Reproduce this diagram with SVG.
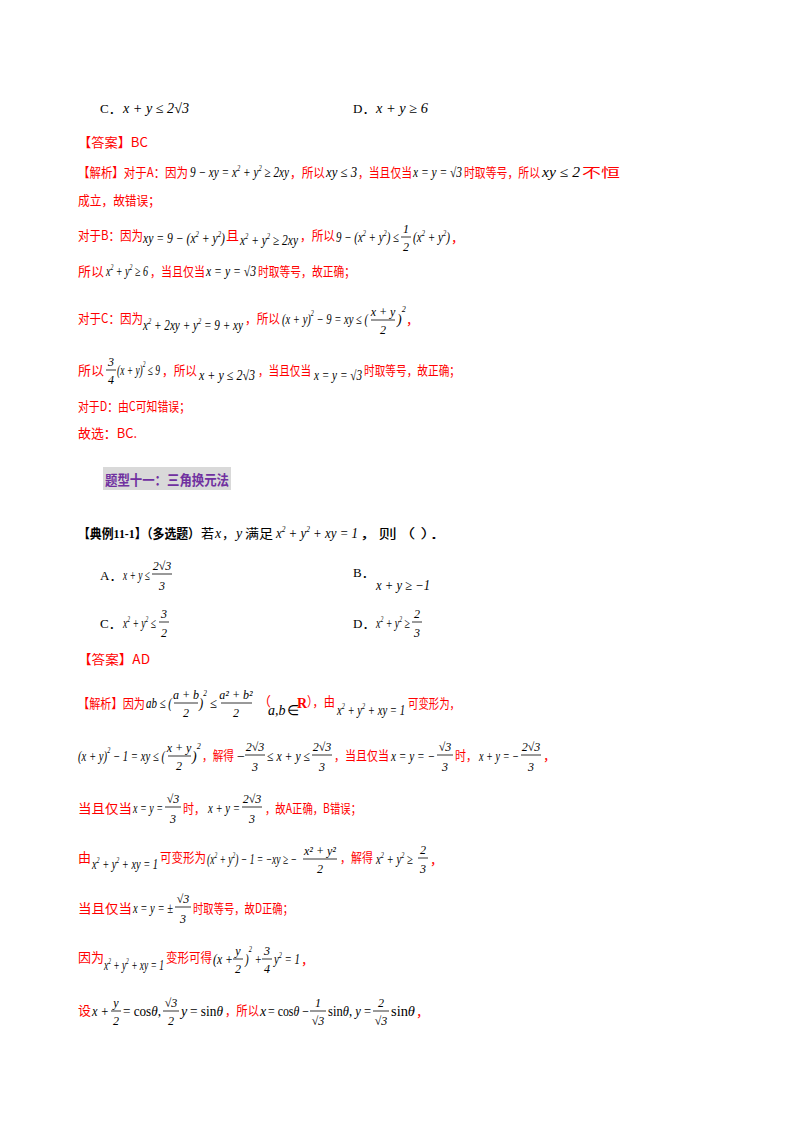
<svg xmlns="http://www.w3.org/2000/svg" width="800" height="1132" viewBox="0 0 800 1132">
<style>
text{font-size:14px}
.c{font-family:"Noto Sans CJK SC",sans-serif;fill:#ff0000;font-size:13px}
.k{font-family:"Liberation Serif","Noto Sans CJK SC",serif;fill:#000;font-size:13px}
.m{font-family:"Liberation Serif",serif;font-style:italic;fill:#000;font-size:14px}
.n{font-family:"Liberation Serif",serif;fill:#000;font-size:14px}
.f{font-family:"Liberation Serif",serif;font-style:italic;fill:#000;font-size:12px;text-anchor:middle}
.b{font-family:"Liberation Serif","Noto Sans CJK SC",serif;font-weight:bold;fill:#000;font-size:13px}
.s{font-size:8px}
line{stroke:#000;stroke-width:0.8}
</style>
<rect width="800" height="1132" fill="#fff"/>
<g id="page">
<text x="100" y="113" class="k">C．</text><text x="123" y="113" class="m" textLength="66" lengthAdjust="spacingAndGlyphs">x + y ≤ 2√3</text>
<text x="353" y="113" class="k">D．</text><text x="376" y="113" class="m" textLength="52" lengthAdjust="spacingAndGlyphs">x + y ≥ 6</text>

<text x="78" y="147" class="c" textLength="70" lengthAdjust="spacingAndGlyphs">【答案】BC</text>

<text x="78" y="177" class="c" textLength="110" lengthAdjust="spacingAndGlyphs">【解析】对于A：因为</text>
<text x="190" y="177" class="m" textLength="99" lengthAdjust="spacingAndGlyphs">9 − xy = x<tspan class="s" dy="-6">2</tspan><tspan dy="6"> + y</tspan><tspan class="s" dy="-6">2</tspan><tspan dy="6"> ≥ 2xy</tspan></text>
<text x="290" y="177" class="c" textLength="35" lengthAdjust="spacingAndGlyphs">，所以</text><text x="326" y="177" class="m" textLength="31" lengthAdjust="spacingAndGlyphs">xy ≤ 3</text>
<text x="358" y="177" class="c" textLength="54" lengthAdjust="spacingAndGlyphs">，当且仅当</text><text x="413" y="177" class="m" textLength="49" lengthAdjust="spacingAndGlyphs">x = y = √3</text>
<text x="464" y="177" class="c" textLength="76" lengthAdjust="spacingAndGlyphs">时取等号，所以</text><text x="542" y="177" class="m" textLength="38" lengthAdjust="spacingAndGlyphs">xy ≤ 2</text><text x="582" y="177" class="c" textLength="38" lengthAdjust="spacingAndGlyphs">不恒</text>
<text x="78" y="205" class="c" textLength="82" lengthAdjust="spacingAndGlyphs">成立，故错误；</text>

<text x="78" y="240" class="c" textLength="65" lengthAdjust="spacingAndGlyphs">对于B：因为</text>
<text x="143" y="243" class="m" textLength="82" lengthAdjust="spacingAndGlyphs">xy = 9 − (x<tspan class="s" dy="-6">2</tspan><tspan dy="6"> + y</tspan><tspan class="s" dy="-6">2</tspan><tspan dy="6">)</tspan></text>
<text x="226" y="240" class="c">且</text>
<text x="240" y="245" class="m" textLength="58" lengthAdjust="spacingAndGlyphs">x<tspan class="s" dy="-6">2</tspan><tspan dy="6"> + y</tspan><tspan class="s" dy="-6">2</tspan><tspan dy="6"> ≥ 2xy</tspan></text>
<text x="300" y="240" class="c" textLength="35" lengthAdjust="spacingAndGlyphs">，所以</text>
<text x="336" y="242" class="m" textLength="63" lengthAdjust="spacingAndGlyphs">9 − (x<tspan class="s" dy="-6">2</tspan><tspan dy="6"> + y</tspan><tspan class="s" dy="-6">2</tspan><tspan dy="6">) ≤</tspan></text>
<text x="406" y="233" class="f">1</text><line x1="401" y1="237" x2="411" y2="237"/><text x="406" y="251" class="f">2</text>
<text x="413" y="242" class="m" textLength="37" lengthAdjust="spacingAndGlyphs">(x<tspan class="s" dy="-6">2</tspan><tspan dy="6"> + y</tspan><tspan class="s" dy="-6">2</tspan><tspan dy="6">)</tspan></text><text x="451" y="242" class="c">，</text>

<text x="78" y="276" class="c" textLength="26" lengthAdjust="spacingAndGlyphs">所以</text>
<text x="106" y="276" class="m" textLength="42" lengthAdjust="spacingAndGlyphs">x<tspan class="s" dy="-6">2</tspan><tspan dy="6"> + y</tspan><tspan class="s" dy="-6">2</tspan><tspan dy="6"> ≥ 6</tspan></text>
<text x="150" y="276" class="c" textLength="55" lengthAdjust="spacingAndGlyphs">，当且仅当</text><text x="206" y="276" class="m" textLength="50" lengthAdjust="spacingAndGlyphs">x = y = √3</text>
<text x="258" y="276" class="c" textLength="97" lengthAdjust="spacingAndGlyphs">时取等号，故正确；</text>

<text x="78" y="323" class="c" textLength="65" lengthAdjust="spacingAndGlyphs">对于C：因为</text>
<text x="143" y="330" class="m" textLength="100" lengthAdjust="spacingAndGlyphs">x<tspan class="s" dy="-6">2</tspan><tspan dy="6"> + 2xy + y</tspan><tspan class="s" dy="-6">2</tspan><tspan dy="6"> = 9 + xy</tspan></text>
<text x="245" y="323" class="c" textLength="35" lengthAdjust="spacingAndGlyphs">，所以</text>
<text x="282" y="324" class="m" textLength="86" lengthAdjust="spacingAndGlyphs">(x + y)<tspan class="s" dy="-8">2</tspan><tspan dy="8"> − 9 = xy ≤ (</tspan></text>
<text x="383" y="316" class="f">x + y</text><line x1="371" y1="320" x2="395" y2="320"/><text x="383" y="334" class="f">2</text>
<text x="397" y="324" class="m">)<tspan class="s" dy="-12">2</tspan></text><text x="406" y="324" class="c">，</text>

<text x="78" y="375" class="c" textLength="26" lengthAdjust="spacingAndGlyphs">所以</text>
<text x="111" y="366" class="f">3</text><line x1="106" y1="370" x2="116" y2="370"/><text x="111" y="384" class="f">4</text>
<text x="117" y="375" class="m" textLength="43" lengthAdjust="spacingAndGlyphs">(x + y)<tspan class="s" dy="-8">2</tspan><tspan dy="8"> ≤ 9</tspan></text>
<text x="162" y="375" class="c" textLength="35" lengthAdjust="spacingAndGlyphs">，所以</text><text x="199" y="380" class="m" textLength="56" lengthAdjust="spacingAndGlyphs">x + y ≤ 2√3</text>
<text x="258" y="375" class="c" textLength="53" lengthAdjust="spacingAndGlyphs">，当且仅当</text><text x="314" y="380" class="m" textLength="48" lengthAdjust="spacingAndGlyphs">x = y = √3</text>
<text x="364" y="375" class="c" textLength="96" lengthAdjust="spacingAndGlyphs">时取等号，故正确；</text>

<text x="78" y="411" class="c" textLength="112" lengthAdjust="spacingAndGlyphs">对于D：由C可知错误；</text>
<text x="78" y="438" class="c" textLength="59" lengthAdjust="spacingAndGlyphs">故选：BC.</text>
</g>

<g id="heading">
<rect x="103" y="467" width="128" height="23" fill="#d9d9d9"/>
<text x="105" y="485" font-family="Noto Sans CJK SC,sans-serif" font-weight="bold" font-size="16" fill="#7030a0" textLength="124" lengthAdjust="spacingAndGlyphs">题型十一：三角换元法</text>
</g>

<g id="example">
<text x="78" y="538" class="b" textLength="122" lengthAdjust="spacingAndGlyphs">【典例11-1】（多选题）</text>
<text x="201" y="538" class="k">若</text><text x="215" y="538" class="m">x</text><text x="222" y="538" class="k">，</text><text x="236" y="538" class="m">y</text><text x="245" y="538" class="k" textLength="28" lengthAdjust="spacingAndGlyphs">满足</text>
<text x="276" y="538" class="m" textLength="82" lengthAdjust="spacingAndGlyphs">x<tspan class="s" dy="-6">2</tspan><tspan dy="6"> + y</tspan><tspan class="s" dy="-6">2</tspan><tspan dy="6"> + xy = 1</tspan></text>
<text x="360" y="538" class="k" textLength="88" lengthAdjust="spacingAndGlyphs">，则（    ）．</text>

<text x="100" y="580" class="k">A．</text><text x="123" y="580" class="m" textLength="27" lengthAdjust="spacingAndGlyphs">x + y ≤</text>
<text x="162" y="570" class="f">2√3</text><line x1="152" y1="574" x2="172" y2="574"/><text x="162" y="590" class="f">3</text>
<text x="353" y="577" class="k">B．</text><text x="376" y="590" class="m" textLength="54" lengthAdjust="spacingAndGlyphs">x + y ≥ −1</text>

<text x="100" y="628" class="k">C．</text><text x="123" y="628" class="m" textLength="33" lengthAdjust="spacingAndGlyphs">x<tspan class="s" dy="-6">2</tspan><tspan dy="6"> + y</tspan><tspan class="s" dy="-6">2</tspan><tspan dy="6"> ≤</tspan></text>
<text x="164" y="618" class="f">3</text><line x1="159" y1="622" x2="169" y2="622"/><text x="164" y="637" class="f">2</text>
<text x="353" y="628" class="k">D．</text><text x="376" y="628" class="m" textLength="34" lengthAdjust="spacingAndGlyphs">x<tspan class="s" dy="-6">2</tspan><tspan dy="6"> + y</tspan><tspan class="s" dy="-6">2</tspan><tspan dy="6"> ≥</tspan></text>
<text x="417" y="618" class="f">2</text><line x1="412" y1="622" x2="422" y2="622"/><text x="417" y="637" class="f">3</text>

<text x="78" y="664" class="c" textLength="72" lengthAdjust="spacingAndGlyphs">【答案】AD</text>

<text x="78" y="708" class="c" textLength="67" lengthAdjust="spacingAndGlyphs">【解析】因为</text>
<text x="146" y="708" class="m" textLength="26" lengthAdjust="spacingAndGlyphs">ab ≤ (</text>
<text x="186" y="699" class="f">a + b</text><line x1="174" y1="703" x2="198" y2="703"/><text x="186" y="717" class="f">2</text>
<text x="199" y="708" class="m" textLength="18" lengthAdjust="spacingAndGlyphs">)<tspan class="s" dy="-12">2</tspan><tspan dy="12"> ≤</tspan></text>
<text x="236" y="699" class="f">a² + b²</text><line x1="221" y1="703" x2="252" y2="703"/><text x="236" y="717" class="f">2</text>
<text x="258" y="706" class="c">（</text><text x="268" y="715" class="m">a,b</text><text x="287" y="715" class="n">∈</text>
<text x="297" y="708" font-family="Liberation Serif,serif" font-weight="bold" font-size="14" fill="#ff0000">R</text><text x="307" y="706" class="c" textLength="28" lengthAdjust="spacingAndGlyphs">），由</text>
<text x="337" y="715" class="m" textLength="68" lengthAdjust="spacingAndGlyphs">x<tspan class="s" dy="-6">2</tspan><tspan dy="6"> + y</tspan><tspan class="s" dy="-6">2</tspan><tspan dy="6"> + xy = 1</tspan></text>
<text x="408" y="708" class="c" textLength="52" lengthAdjust="spacingAndGlyphs">可变形为，</text>

<text x="78" y="761" class="m" textLength="87" lengthAdjust="spacingAndGlyphs">(x + y)<tspan class="s" dy="-8">2</tspan><tspan dy="8"> − 1 = xy ≤ (</tspan></text>
<text x="179" y="752" class="f">x + y</text><line x1="168" y1="756" x2="191" y2="756"/><text x="179" y="770" class="f">2</text>
<text x="192" y="761" class="m">)<tspan class="s" dy="-12">2</tspan></text>
<text x="202" y="760" class="c" textLength="32" lengthAdjust="spacingAndGlyphs">，解得</text><text x="236" y="761" class="m">−</text>
<text x="255" y="751" class="f">2√3</text><line x1="245" y1="755" x2="265" y2="755"/><text x="255" y="771" class="f">3</text>
<text x="267" y="761" class="m" textLength="43" lengthAdjust="spacingAndGlyphs">≤ x + y ≤</text>
<text x="322" y="751" class="f">2√3</text><line x1="312" y1="755" x2="332" y2="755"/><text x="322" y="771" class="f">3</text>
<text x="334" y="760" class="c" textLength="55" lengthAdjust="spacingAndGlyphs">，当且仅当</text><text x="391" y="761" class="m" textLength="44" lengthAdjust="spacingAndGlyphs">x = y = −</text>
<text x="445" y="751" class="f">√3</text><line x1="437" y1="755" x2="453" y2="755"/><text x="445" y="771" class="f">3</text>
<text x="455" y="760" class="c" textLength="22" lengthAdjust="spacingAndGlyphs">时，</text><text x="479" y="761" class="m" textLength="40" lengthAdjust="spacingAndGlyphs">x + y = −</text>
<text x="531" y="751" class="f">2√3</text><line x1="521" y1="755" x2="541" y2="755"/><text x="531" y="771" class="f">3</text>
<text x="543" y="760" class="c">，</text>

<text x="78" y="813" class="c" textLength="54" lengthAdjust="spacingAndGlyphs">当且仅当</text><text x="133" y="813" class="m" textLength="30" lengthAdjust="spacingAndGlyphs">x = y =</text>
<text x="173" y="803" class="f">√3</text><line x1="165" y1="807" x2="181" y2="807"/><text x="173" y="823" class="f">3</text>
<text x="183" y="813" class="c" textLength="22" lengthAdjust="spacingAndGlyphs">时，</text><text x="208" y="813" class="m" textLength="32" lengthAdjust="spacingAndGlyphs">x + y =</text>
<text x="252" y="803" class="f">2√3</text><line x1="242" y1="807" x2="262" y2="807"/><text x="252" y="823" class="f">3</text>
<text x="265" y="813" class="c" textLength="96" lengthAdjust="spacingAndGlyphs">，故A正确，B错误；</text>

<text x="78" y="862" class="c">由</text>
<text x="92" y="869" class="m" textLength="66" lengthAdjust="spacingAndGlyphs">x<tspan class="s" dy="-6">2</tspan><tspan dy="6"> + y</tspan><tspan class="s" dy="-6">2</tspan><tspan dy="6"> + xy = 1</tspan></text>
<text x="160" y="862" class="c" textLength="46" lengthAdjust="spacingAndGlyphs">可变形为</text>
<text x="207" y="864" class="m" textLength="90" lengthAdjust="spacingAndGlyphs">(x<tspan class="s" dy="-6">2</tspan><tspan dy="6"> + y</tspan><tspan class="s" dy="-6">2</tspan><tspan dy="6">) − 1 = −xy ≥ −</tspan></text>
<text x="320" y="855" class="f">x² + y²</text><line x1="303" y1="859" x2="337" y2="859"/><text x="320" y="873" class="f">2</text>
<text x="340" y="862" class="c" textLength="33" lengthAdjust="spacingAndGlyphs">，解得</text>
<text x="376" y="864" class="m" textLength="37" lengthAdjust="spacingAndGlyphs">x<tspan class="s" dy="-6">2</tspan><tspan dy="6"> + y</tspan><tspan class="s" dy="-6">2</tspan><tspan dy="6"> ≥</tspan></text>
<text x="423" y="854" class="f">2</text><line x1="418" y1="858" x2="428" y2="858"/><text x="423" y="873" class="f">3</text><text x="430" y="864" class="c">，</text>

<text x="78" y="913" class="c" textLength="54" lengthAdjust="spacingAndGlyphs">当且仅当</text><text x="133" y="913" class="m" textLength="40" lengthAdjust="spacingAndGlyphs">x = y = ±</text>
<text x="183" y="903" class="f">√3</text><line x1="175" y1="907" x2="191" y2="907"/><text x="183" y="923" class="f">3</text>
<text x="193" y="913" class="c" textLength="100" lengthAdjust="spacingAndGlyphs">时取等号，故D正确；</text>

<text x="78" y="962" class="c" textLength="26" lengthAdjust="spacingAndGlyphs">因为</text>
<text x="104" y="970" class="m" textLength="60" lengthAdjust="spacingAndGlyphs">x<tspan class="s" dy="-6">2</tspan><tspan dy="6"> + y</tspan><tspan class="s" dy="-6">2</tspan><tspan dy="6"> + xy = 1</tspan></text>
<text x="166" y="962" class="c" textLength="46" lengthAdjust="spacingAndGlyphs">变形可得</text>
<text x="213" y="964" class="m" textLength="20" lengthAdjust="spacingAndGlyphs">(x +</text>
<text x="238" y="955" class="f">y</text><line x1="233" y1="959" x2="243" y2="959"/><text x="238" y="973" class="f">2</text>
<text x="245" y="964" class="m" textLength="17" lengthAdjust="spacingAndGlyphs">)<tspan class="s" dy="-12">2</tspan><tspan dy="12"> +</tspan></text>
<text x="267" y="955" class="f">3</text><line x1="262" y1="959" x2="272" y2="959"/><text x="267" y="973" class="f">4</text>
<text x="274" y="964" class="m" textLength="26" lengthAdjust="spacingAndGlyphs">y<tspan class="s" dy="-6">2</tspan><tspan dy="6"> = 1</tspan></text><text x="301" y="964" class="c">，</text>

<text x="78" y="1015" class="c">设</text>
<text x="92" y="1016" class="m" textLength="17" lengthAdjust="spacingAndGlyphs">x +</text>
<text x="116" y="1007" class="f">y</text><line x1="111" y1="1011" x2="121" y2="1011"/><text x="116" y="1025" class="f">2</text>
<text x="123" y="1016" class="n" textLength="38" lengthAdjust="spacingAndGlyphs">= cos<tspan font-style="italic">θ</tspan>,</text>
<text x="171" y="1007" class="f">√3</text><line x1="163" y1="1011" x2="179" y2="1011"/><text x="171" y="1025" class="f">2</text>
<text x="181" y="1016" class="m">y</text><text x="190" y="1016" class="n" textLength="33" lengthAdjust="spacingAndGlyphs">= sin<tspan font-style="italic">θ</tspan></text>
<text x="225" y="1015" class="c" textLength="34" lengthAdjust="spacingAndGlyphs">，所以</text>
<text x="260" y="1016" class="m">x</text><text x="268" y="1016" class="n" textLength="41" lengthAdjust="spacingAndGlyphs">= cos<tspan font-style="italic">θ</tspan> −</text>
<text x="318" y="1007" class="f">1</text><line x1="310" y1="1011" x2="326" y2="1011"/><text x="318" y="1025" class="f">√3</text>
<text x="328" y="1016" class="n" textLength="43" lengthAdjust="spacingAndGlyphs">sin<tspan font-style="italic">θ</tspan>, <tspan font-style="italic">y</tspan> =</text>
<text x="381" y="1007" class="f">2</text><line x1="373" y1="1011" x2="389" y2="1011"/><text x="381" y="1025" class="f">√3</text>
<text x="391" y="1016" class="n" textLength="24" lengthAdjust="spacingAndGlyphs">sin<tspan font-style="italic">θ</tspan></text><text x="416" y="1016" class="c">，</text>
</g>
</svg>
